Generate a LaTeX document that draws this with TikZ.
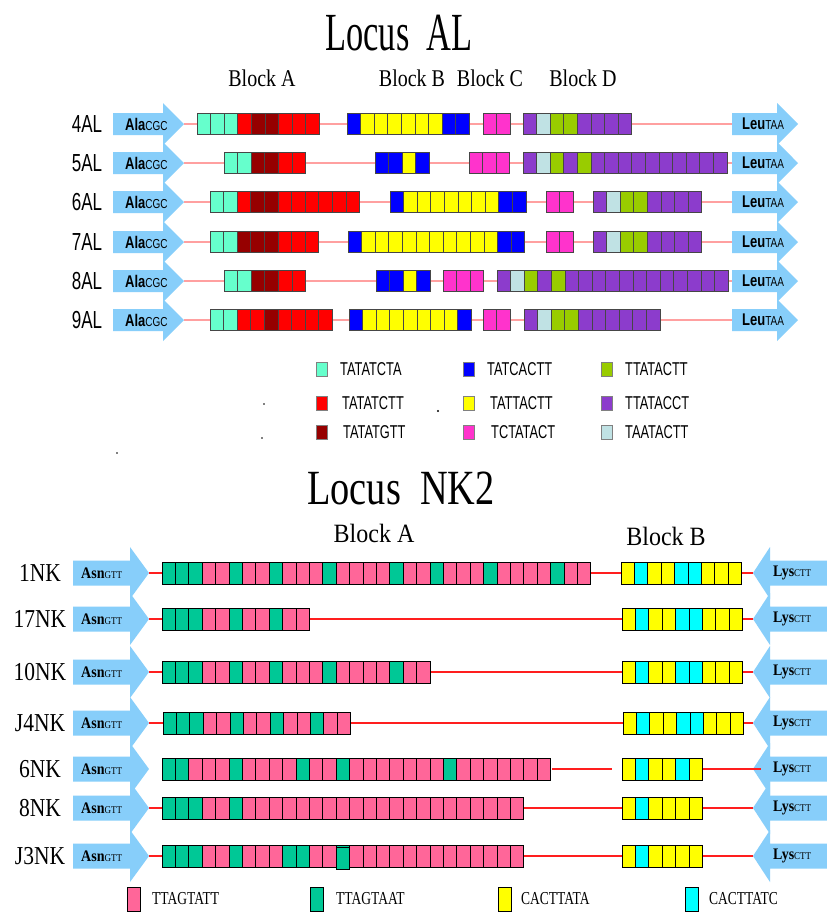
\documentclass[tikz,border=0pt]{standalone}
\usepackage{fontspec}
\setmainfont{Liberation Serif}
\newfontfamily\arialf{Liberation Sans}
\definecolor{aq}{RGB}{102,255,204}
\definecolor{rd}{RGB}{255,0,0}
\definecolor{dr}{RGB}{150,0,0}
\definecolor{bl}{RGB}{0,0,255}
\definecolor{ye}{RGB}{255,255,0}
\definecolor{mg}{RGB}{255,51,204}
\definecolor{gr}{RGB}{153,204,0}
\definecolor{pu}{RGB}{140,60,204}
\definecolor{lb}{RGB}{192,226,228}
\definecolor{pk}{RGB}{255,102,153}
\definecolor{gn}{RGB}{0,200,150}
\definecolor{cy}{RGB}{0,255,255}
\definecolor{cb}{RGB}{70,70,70}
\definecolor{arrowblue}{RGB}{135,206,250}
\definecolor{pinkline}{RGB}{255,160,160}
\definecolor{redline}{RGB}{255,30,30}
\newcommand\vs[2]{\scalebox{1}[#1]{#2}}
\newcommand\cellblk[6]{%
  \foreach \cc [count=\ii from 0] in {#6} {%
    \filldraw[fill=\cc, draw=#5, line width=0.9pt] ({#1+\ii*#3},{#2-#4/2}) rectangle ++(#3,#4);
  }%
}
\newcommand\alb[3]{\cellblk{#1}{#2}{13.6}{21}{cb}{#3}}
\newcommand\nkb[3]{\cellblk{#1}{#2}{13.4}{22}{black}{#3}}
\newcommand\alaarrow[2]{%
  \fill[arrowblue] (113,{#1-11}) -- (163,{#1-11}) -- (163,{#1-21}) -- (184,#1) -- (163,{#1+21}) -- (163,{#1+11}) -- (113,{#1+11}) -- cycle;
  \coordinate (#2) at (184,#1);}
\newcommand\leuarrow[2]{%
  \fill[arrowblue] (732,{#1-11}) -- (777,{#1-11}) -- (777,{#1-21}) -- (798,#1) -- (777,{#1+21}) -- (777,{#1+11}) -- (732,{#1+11}) -- cycle;
  \coordinate (#2) at (732,#1);}
\newcommand\asnarrow[2]{%
  \fill[arrowblue] (73,{#1-12.5}) -- (130,{#1-12.5}) -- (130,{#1-26}) -- (149,#1) -- (130,{#1+26}) -- (130,{#1+12.5}) -- (73,{#1+12.5}) -- cycle;
  \coordinate (#2) at (149,#1);}
\newcommand\lysarrow[2]{%
  \fill[arrowblue] (830,{#1-12.5}) -- (770,{#1-12.5}) -- (770,{#1-26}) -- (753,#1) -- (770,{#1+26}) -- (770,{#1+12.5}) -- (830,{#1+12.5}) -- cycle;
  \coordinate (#2) at (753,#1);}
\begin{document}
\begin{tikzpicture}[x=1pt,y=-1pt,
  title/.style={font=\fontsize{37}{37}\selectfont, inner sep=0},
  blab/.style={font=\fontsize{20}{20}\selectfont, inner sep=0},
  nblab/.style={font=\fontsize{24}{24}\selectfont, inner sep=0},
  rowlab/.style={font=\arialf\fontsize{17}{17}\selectfont, inner sep=0},
  nklab/.style={font=\fontsize{21.5}{21.5}\selectfont, inner sep=0},
  aa/.style={font=\arialf\fontsize{13}{13}\selectfont, anchor=west, inner sep=0},
  na/.style={font=\fontsize{14}{14}\selectfont, anchor=west, inner sep=0},
  ltx/.style={font=\arialf\fontsize{12.8}{12.8}\selectfont, anchor=west, inner sep=0},
  lsq/.style={minimum width=11, minimum height=14, draw=gray, line width=0.8pt, inner sep=0},
  ntx/.style={font=\fontsize{13.5}{13.5}\selectfont, anchor=west, inner sep=0},
  nsq/.style={minimum width=13, minimum height=24, draw=black, line width=1pt, inner sep=0},
  pl/.style={pinkline, line width=1.6pt},
  rl/.style={redline, line width=1.3pt}]
\useasboundingbox (0,0) rectangle (827,922);
\fill[white] (0,0) rectangle (827,922);
% ---------------- Locus AL ----------------
\node[title] (tAL) at (399,33) {\scalebox{0.93}[1.45]{Locus\ \ AL}};
\node[blab] (bA) at (262,78) {\vs{1.2}{Block A}};
\node[blab] (bB) at (412,78) {\vs{1.2}{Block B}};
\node[blab] (bC) at (490,78) {\vs{1.2}{Block C}};
\node[blab] (bD) at (583,78) {\vs{1.2}{Block D}};
\foreach \yy/\nm in {124/4,163/5,202/6,242/7,281/8,320/9} {
  \alaarrow{\yy}{ala\nm}
  \leuarrow{\yy}{leu\nm}
  \draw[pl] (ala\nm) -- (leu\nm);
}
% 4AL
\alb{197}{124}{aq,aq,aq,rd,dr,dr,rd,rd,rd}
\alb{347}{124}{bl,ye,ye,ye,ye,ye,ye,bl,bl}
\alb{483}{124}{mg,mg}
\alb{523}{124}{pu,lb,gr,gr,pu,pu,pu,pu}
% 5AL
\alb{224}{163}{aq,aq,dr,dr,rd,rd}
\alb{375}{163}{bl,bl,ye,bl}
\alb{469}{163}{mg,mg,mg}
\alb{523}{163}{pu,lb,gr,pu,gr,pu,pu,pu,pu,pu,pu,pu,pu,pu,pu}
% 6AL
\alb{210}{202}{aq,aq,rd,dr,dr,rd,rd,rd,rd,rd,rd}
\alb{390}{202}{bl,ye,ye,ye,ye,ye,ye,ye,bl,bl}
\alb{546}{202}{mg,mg}
\alb{593}{202}{pu,lb,gr,gr,pu,pu,pu,pu}
% 7AL
\alb{210}{242}{aq,aq,dr,dr,dr,rd,rd,rd}
\alb{348}{242}{bl,ye,ye,ye,ye,ye,ye,ye,ye,ye,ye,bl,bl}
\alb{546}{242}{mg,mg}
\alb{593}{242}{pu,lb,gr,gr,pu,pu,pu,pu}
% 8AL
\alb{224}{281}{aq,aq,dr,dr,rd,rd}
\alb{376}{281}{bl,bl,ye,bl}
\alb{443}{281}{mg,mg,mg}
\alb{497}{281}{pu,lb,gr,pu,gr,pu,pu,pu,pu,pu,pu,pu,pu,pu,pu,pu,pu}
% 9AL
\alb{210}{320}{aq,aq,rd,rd,dr,rd,rd,rd,rd}
\alb{349}{320}{bl,ye,ye,ye,ye,ye,ye,ye,bl}
\alb{483}{320}{mg,mg}
\alb{524}{320}{pu,lb,gr,gr,pu,pu,pu,pu,pu,pu}
\foreach \yy/\nm in {124/4,163/5,202/6,242/7,281/8,320/9} {
  \node[rowlab] (r\nm) at (87,\yy) {\vs{1.45}{\nm AL}};
  \node[aa] (ta\nm) at (125,\yy) {\vs{1.3}{\bfseries Ala{\mdseries\fontsize{10}{10}\selectfont CGC}}};
  \node[aa] (tl\nm) at (742,\yy) {\vs{1.3}{\bfseries Leu{\mdseries\fontsize{10}{10}\selectfont TAA}}};
}
% legend AL
\node[lsq, fill=aq] (q1) at (322,369) {};
\node[lsq, fill=rd] (q2) at (322,403) {};
\node[lsq, fill=dr] (q3) at (322,432) {};
\node[lsq, fill=bl] (q4) at (469,369) {};
\node[lsq, fill=ye] (q5) at (469,403) {};
\node[lsq, fill=mg] (q6) at (469,432) {};
\node[lsq, fill=gr] (q7) at (607,369) {};
\node[lsq, fill=pu] (q8) at (607,403) {};
\node[lsq, fill=lb] (q9) at (607,432) {};
\node[ltx] (x1) at (340,369) {\vs{1.45}{TATATCTA}};
\node[ltx] (x2) at (342,403) {\vs{1.45}{TATATCTT}};
\node[ltx] (x3) at (343,432) {\vs{1.45}{TATATGTT}};
\node[ltx] (x4) at (487,369) {\vs{1.45}{TATCACTT}};
\node[ltx] (x5) at (490,403) {\vs{1.45}{TATTACTT}};
\node[ltx] (x6) at (491,432) {\vs{1.45}{TCTATACT}};
\node[ltx] (x7) at (625,369) {\vs{1.45}{TTATACTT}};
\node[ltx] (x8) at (625,403) {\vs{1.45}{TTATACCT}};
\node[ltx] (x9) at (625,432) {\vs{1.45}{TAATACTT}};
\fill (264,404) circle (0.9);
\fill (438,411) circle (1.1);
\fill (262,438) circle (0.8);
\fill (117,453) circle (0.8);
% ---------------- Locus NK2 ----------------
\node[title, font=\fontsize{41}{41}\selectfont] (tNK) at (401,488) {\scalebox{0.935}[1.2]{Locus\ \ NK2}};
\node[nblab] (nbA) at (374,533) {\vs{1.1}{Block A}};
\node[nblab] (nbB) at (666,536) {\vs{1.1}{Block B}};
\foreach \yy/\nm in {573/1NK,619/17NK,672/10NK,723/J4NK,769/6NK,808/8NK,856/J3NK} {
  \asnarrow{\yy}{asn\nm}
  \lysarrow{\yy}{lys\nm}
}
\foreach \nm in {1NK,17NK,10NK,J4NK,8NK,J3NK} { \draw[rl] (asn\nm) -- (lys\nm); }
\coordinate (s6a) at (552,769); \coordinate (s6b) at (612,769);
\coordinate (s6c) at (702,769); \coordinate (s6d) at (761,769);
\draw[rl] (s6a) -- (s6b);
\draw[rl] (s6c) -- (s6d);
% 1NK
\nkb{162}{573}{gn,gn,gn,pk,pk,gn,pk,pk,gn,pk,pk,pk,gn,pk,pk,pk,pk,gn,pk,pk,gn,pk,pk,pk,gn,pk,pk,pk,pk,gn,pk,pk}
\nkb{621}{573}{ye,cy,ye,ye,cy,cy,ye,ye,ye}
% 17NK
\nkb{162}{619}{gn,gn,gn,pk,pk,gn,pk,pk,gn,pk,pk}
\nkb{622}{619}{ye,cy,ye,ye,cy,cy,ye,ye,ye}
% 10NK
\nkb{162}{672}{gn,gn,gn,pk,pk,gn,pk,pk,gn,pk,pk,pk,gn,pk,pk,pk,pk,gn,pk,pk}
\nkb{622}{672}{ye,cy,ye,ye,cy,cy,ye,ye,ye}
% J4NK
\nkb{163}{723}{gn,gn,gn,pk,pk,gn,pk,pk,gn,pk,pk,gn,pk,pk}
\nkb{623}{723}{ye,cy,ye,ye,cy,cy,ye,ye,ye}
% 6NK
\nkb{162}{769}{gn,gn,pk,pk,pk,gn,pk,pk,pk,pk,gn,pk,pk,gn,pk,pk,pk,pk,pk,pk,pk,gn,pk,pk,pk,pk,pk,pk,pk}
\nkb{622}{769}{ye,cy,ye,ye,cy,ye}
% 8NK
\nkb{162}{808}{gn,gn,gn,pk,pk,gn,pk,pk,pk,pk,pk,pk,pk,pk,pk,pk,pk,pk,pk,pk,pk,pk,pk,pk,pk,pk,pk}
\nkb{622}{808}{ye,cy,ye,ye,ye,ye}
% J3NK
\nkb{162}{856}{gn,gn,gn,pk,pk,gn,pk,pk,pk,gn,gn,pk,pk,gn,pk,pk,pk,pk,pk,pk,pk,pk,pk,pk,pk,pk,pk}
\filldraw[fill=gn, draw=black, line width=1pt] ({162+13*13.4},847.5) rectangle ++(13.4,22);
\nkb{622}{856}{ye,cy,ye,ye,ye,ye}
\foreach \yy/\nm in {573/1NK,619/17NK,672/10NK,723/J4NK,769/6NK,808/8NK,856/J3NK} {
  \node[nklab] (n\nm) at (40,\yy) {\vs{1.2}{\nm}};
  \node[na] (tn\nm) at (81,\yy) {\vs{1.15}{\bfseries Asn{\mdseries\fontsize{9}{9}\selectfont GTT}}};
  \node[na] (ty\nm) at (773,\yy) {\vs{1.15}{\bfseries Lys{\mdseries\fontsize{9}{9}\selectfont CTT}}};
}
% legend NK
\node[nsq, fill=pk] (p1) at (134,899) {};
\node[nsq, fill=gn] (p2) at (317,899) {};
\node[nsq, fill=ye] (p3) at (505,899) {};
\node[nsq, fill=cy] (p4) at (692,899) {};
\node[ntx] (y1) at (152,899) {\vs{1.35}{TTAGTATT}};
\node[ntx] (y2) at (336,899) {\vs{1.35}{TTAGTAAT}};
\node[ntx] (y3) at (521,899) {\vs{1.35}{CACTTATA}};
\node[ntx] (y4) at (709,899) {\vs{1.35}{CACTTATC}};
\end{tikzpicture}
\end{document}
